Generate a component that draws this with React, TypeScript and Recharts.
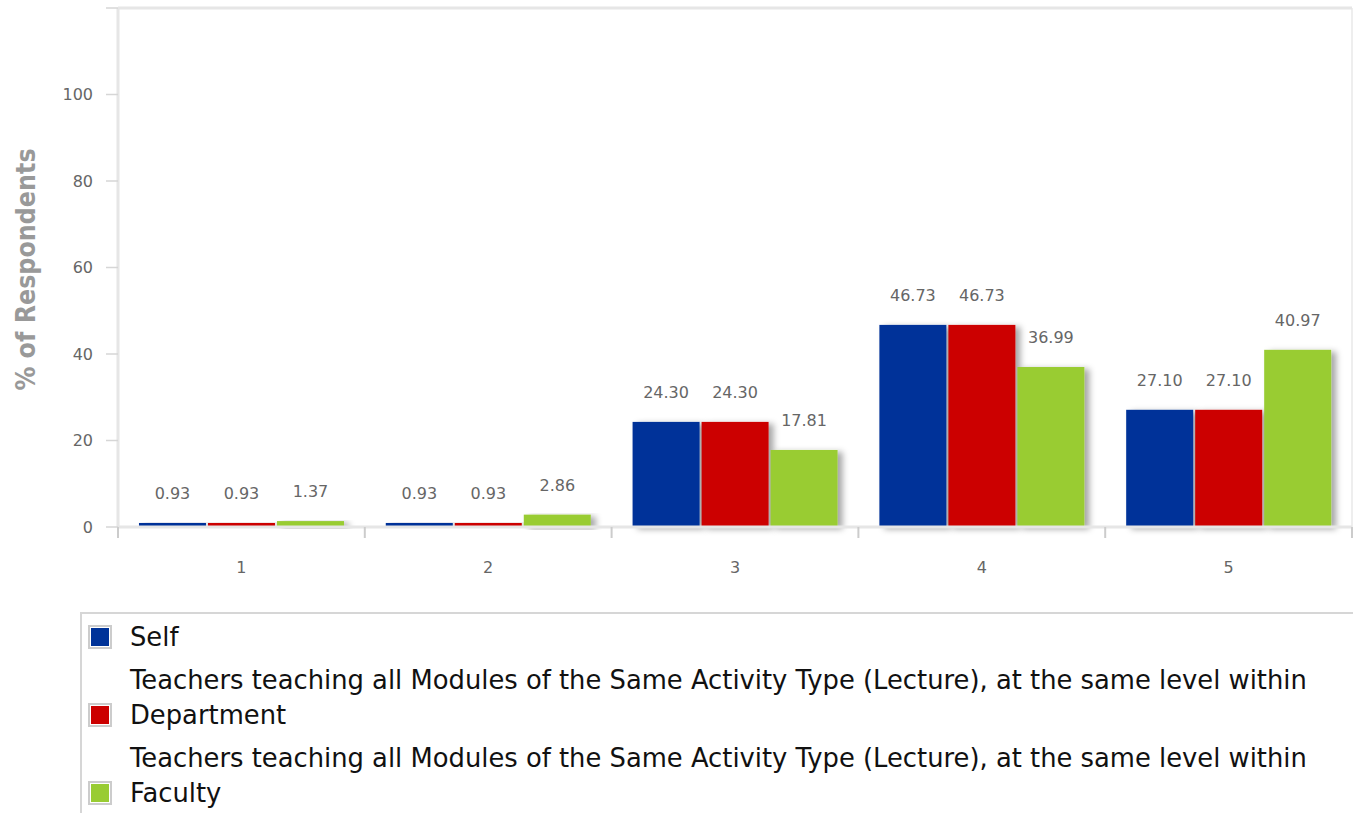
import React from 'react';
import { BarChart, Bar, XAxis, YAxis, LabelList, ReferenceLine, ReferenceArea } from 'recharts';

const categories = ['1', '2', '3', '4', '5'];
const selfValues = [0.93, 0.93, 24.3, 46.73, 27.1];
const departmentValues = [0.93, 0.93, 24.3, 46.73, 27.1];
const facultyValues = [1.37, 2.86, 17.81, 36.99, 40.97];
const yTicks = [0, 20, 40, 60, 80, 100, 120];

const seriesNames = [
    'Self',
    'Teachers teaching all Modules of the Same Activity Type (Lecture), at the same level within Department',
    'Teachers teaching all Modules of the Same Activity Type (Lecture), at the same level within Faculty',
];
const seriesKeys = ['self', 'department', 'faculty'];
const seriesColors = ['#003399', '#cc0000', '#99cc33'];

const data = categories.map((c, i) => ({
    name: c,
    self: selfValues[i],
    department: departmentValues[i],
    faculty: facultyValues[i],
}));

const FONT = '"DejaVu Sans", sans-serif';
const TITLE_FONT = '"DejaVu Sans Condensed", "DejaVu Sans", sans-serif';

const ShadowBar = (props: any) => {
    const { x, y, width, height, fill } = props;
    if (!height) return null;
    return <rect x={x} y={y} width={width} height={height} fill={fill} filter="url(#barShadow)" />;
};

const XTick = (props: any) => {
    const { x, y, payload, index, visibleTicksCount } = props;
    const half = payload.offset || 0;
    return (
        <g>
            <line x1={x - half} x2={x - half} y1={y} y2={y + 11} stroke="#cccccc" strokeWidth={2} />
            {index === visibleTicksCount - 1 && (
                <line x1={x + half} x2={x + half} y1={y} y2={y + 11} stroke="#cccccc" strokeWidth={2} />
            )}
            <text x={x} y={y + 46} textAnchor="middle" fill="#666666" fontSize={16} fontFamily={FONT}>
                {payload.value}
            </text>
        </g>
    );
};

const YTitle = (props: any) => {
    const { viewBox } = props;
    const cx = viewBox.x - 33;
    const cy = viewBox.y + viewBox.height / 2 + 2;
    return (
        <text
            x={cx}
            y={cy}
            transform={`rotate(-90, ${cx}, ${cy})`}
            textAnchor="middle"
            dominantBaseline="central"
            fill="#999999"
            fontSize={26.5}
            fontWeight="bold"
            fontFamily={TITLE_FONT}
        >
            % of Respondents
        </text>
    );
};

export default function App() {
    return (
        <div style={{ position: 'relative', width: 1353, height: 813, overflow: 'hidden', fontFamily: FONT }}>
            <style>{'body{margin:0}'}</style>
            <BarChart
                width={1353}
                height={600}
                data={data}
                margin={{ top: 8, right: 1, left: 58, bottom: 0 }}
                barCategoryGap="8.5%"
                barGap={2}
            >
                <defs>
                    <filter id="barShadow" x="-20%" y="-10%" width="150%" height="130%">
                        <feDropShadow dx={5} dy={2} stdDeviation={3} floodColor="#000000" floodOpacity={0.35} />
                    </filter>
                </defs>
                <ReferenceArea y1={0} y2={120} fill="none" stroke="#dddddd" strokeWidth={1} />
                <ReferenceLine y={120} stroke="#e6e6e6" strokeWidth={3} />
                <XAxis
                    dataKey="name"
                    height={73}
                    tickSize={0}
                    tickMargin={0}
                    tickLine={false}
                    tick={<XTick />}
                    axisLine={{ stroke: '#e6e6e6', strokeWidth: 3 }}
                    interval={0}
                />
                <YAxis
                    width={60}
                    domain={[0, 120]}
                    ticks={yTicks}
                    interval={0}
                    tickFormatter={(v: number) => (v === 120 ? '' : String(v))}
                    tickSize={12}
                    tickMargin={13}
                    tick={{ fill: '#666666', fontSize: 16, fontFamily: FONT }}
                    tickLine={{ stroke: '#d6d6d6', strokeWidth: 1.5 }}
                    axisLine={{ stroke: '#e6e6e6', strokeWidth: 3 }}
                    label={<YTitle />}
                />
                {seriesKeys.map((key, i) => (
                    <Bar
                        key={key}
                        dataKey={key}
                        name={seriesNames[i]}
                        fill={seriesColors[i]}
                        shape={<ShadowBar />}
                        isAnimationActive={false}
                    >
                        <LabelList
                            dataKey={key}
                            position="top"
                            offset={24}
                            formatter={(v: number) => v.toFixed(2)}
                            fill="#666666"
                            fontSize={16}
                            fontFamily={FONT}
                        />
                    </Bar>
                ))}
            </BarChart>
            <div
                style={{
                    position: 'absolute',
                    left: 80,
                    top: 612,
                    width: 1290,
                    height: 220,
                    borderTop: '2px solid #d6d6d6',
                    borderLeft: '2px solid #d6d6d6',
                    boxSizing: 'border-box',
                    paddingTop: 6,
                }}
            >
                {seriesNames.map((name, i) => (
                    <div key={name} style={{ display: 'flex', alignItems: 'flex-end', marginBottom: 8 }}>
                        <div
                            style={{
                                width: 20,
                                height: 20,
                                border: '2px solid #cccccc',
                                background: seriesColors[i],
                                marginLeft: 6,
                                marginBottom: 6,
                                boxShadow: 'inset 0 0 0 1px #ffffff',
                                flexShrink: 0,
                            }}
                        />
                        <div style={{ marginLeft: 18, width: 1210, fontSize: 25.8, lineHeight: '35px', color: '#111111' }}>
                            {name}
                        </div>
                    </div>
                ))}
            </div>
        </div>
    );
}
